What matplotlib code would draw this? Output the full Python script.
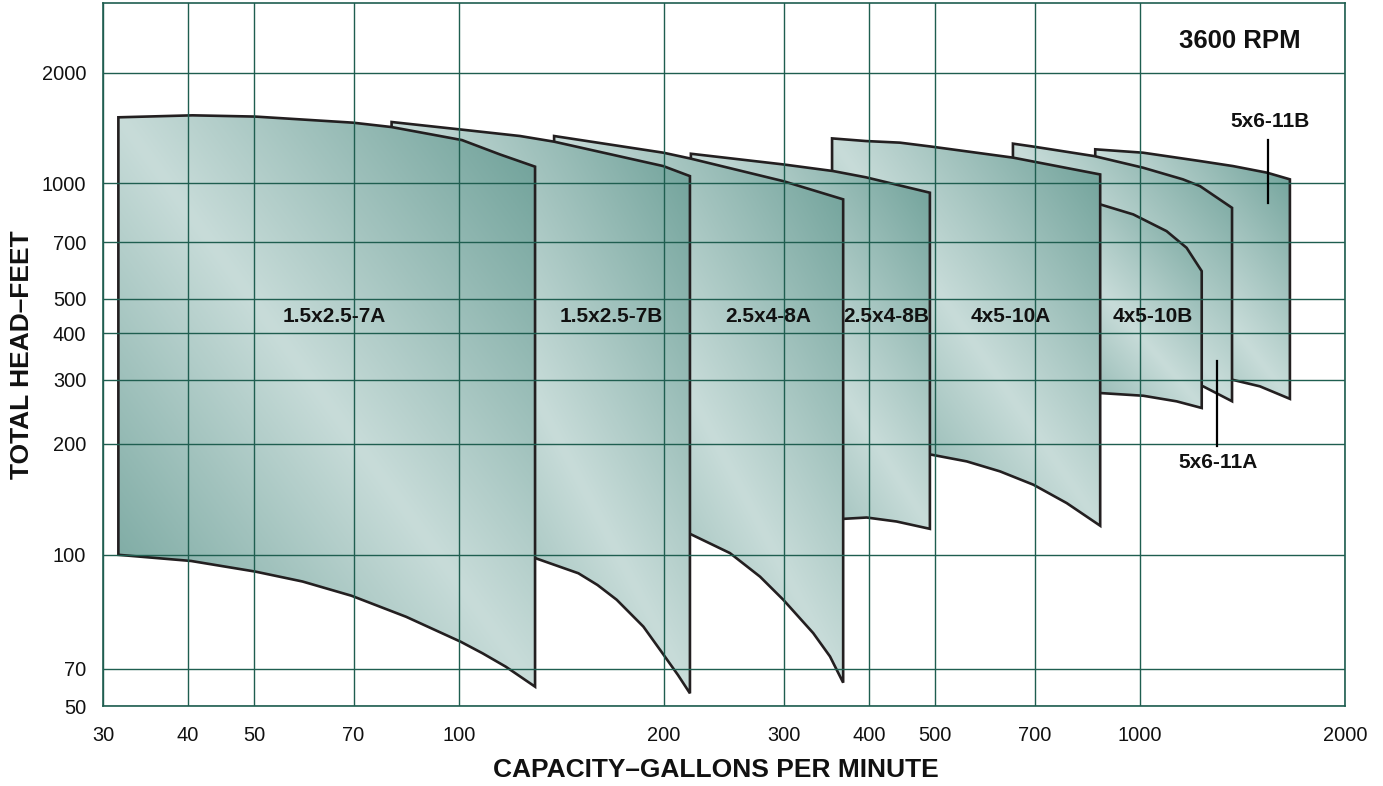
import numpy as np
import matplotlib
matplotlib.use("Agg")
import matplotlib.pyplot as plt
from matplotlib.patches import Polygon
from matplotlib.colors import LinearSegmentedColormap
from matplotlib.ticker import FixedLocator, FixedFormatter, NullLocator

plt.rcParams['font.family'] = ['Liberation Sans', 'DejaVu Sans']

# axis ticks as printed on the chart
x_ticks = [30, 40, 50, 70, 100, 200, 300, 400, 500, 700, 1000, 2000]
y_ticks = [50, 70, 100, 200, 300, 400, 500, 700, 1000, 2000]

# the printed head axis is not a clean log scale (bottom end is squeezed),
# so it is mapped piecewise through these reference heads
head_ref = [50, 70, 100, 200, 300, 400, 500, 700, 1000, 2000, 3100]
head_pos = [0, 37, 151, 262, 325.7, 372.3, 407, 463, 522.3, 632.3, 701.9]

pumps = ['1.5x2.5-7A', '1.5x2.5-7B', '2.5x4-8A', '2.5x4-8B',
         '4x5-10A', '4x5-10B', '5x6-11A', '5x6-11B']

# upper edge of each coverage area (gpm, ft)
top_q = [
    [31.6, 40.6, 50.2, 69.8, 79.6, 101, 114.8, 129.3],
    [79.6, 101, 122.9, 137.9, 199.5, 218.3],
    [137.9, 199.5, 218.3, 299, 366.5],
    [219, 299, 354, 396, 491.4],
    [353, 396, 444, 494.4, 650.7, 874],
    [650, 874, 977.5, 1094, 1170.6, 1232],
    [650.7, 698, 857, 1010, 1156, 1225, 1365],
    [859.5, 1010, 1225, 1370, 1536, 1660],
]
top_h = [
    [1513, 1532, 1520, 1463, 1423, 1311, 1198, 1109],
    [1469, 1400, 1345, 1298, 1113, 1045],
    [1345, 1211, 1168, 1013, 907],
    [1203, 1125, 1079, 1037, 944],
    [1325, 1303, 1290, 1258, 1174, 1056],
    [960, 880, 828.5, 749.3, 678, 589.4],
    [1282, 1258, 1185, 1102, 1024, 982, 862],
    [1237, 1211, 1149, 1113, 1068, 1024],
]
# lower edge of each coverage area (gpm, ft)
bot_q = [
    [31.6, 40.4, 50.2, 58.9, 69.5, 83.6, 100.6, 108.3, 117.1, 129.3],
    [79.6, 110, 129.3, 149.7, 159.7, 170.4, 186.5, 199.0, 209.6, 218.3],
    [137.9, 200, 218.3, 249.9, 276.7, 299.3, 331.2, 350.5, 366.5],
    [219, 368, 396.8, 439, 491.4],
    [353, 494.4, 556.6, 622.8, 697.6, 780.4, 874],
    [650, 874, 1011, 1131.9, 1232],
    [650.7, 1000, 1238, 1365],
    [859.5, 1200, 1370, 1500, 1660],
]
bot_h = [
    [100, 98.1, 94.9, 92.0, 88.0, 82.4, 76.2, 73.5, 70.5, 59.6],
    [108, 104, 99.0, 94.4, 91.0, 86.9, 79.9, 73.5, 66.3, 56.1],
    [125, 118, 114.0, 101.1, 93.4, 86.9, 78.3, 72.8, 61.8],
    [126, 125.2, 126.2, 123.1, 117.6],
    [190, 186.7, 179.1, 168.3, 154.8, 138.1, 119.9],
    [280, 276, 271.3, 261.8, 251],
    [300, 296, 288, 262],
    [310, 305, 300, 288, 266],
]

# where each area name is written
label_q = [65.5, 167.2, 284.7, 424.2, 646.3, 1045.5, 1302.7, 1553]
label_h = [445, 445, 445, 445, 445, 445, 178, 1472]
# leader lines for the two narrow areas
pointer_q = {6: 1296, 7: 1540}
pointer_h = {6: (338, 196.7), 7: (1311, 885)}


def head_fwd(h):
    h = np.clip(np.asarray(h, dtype=float), 1e-6, None)
    return np.interp(np.log10(h), np.log10(head_ref), head_pos)


def head_inv(p):
    p = np.asarray(p, dtype=float)
    return 10 ** np.interp(p, head_pos, np.log10(head_ref))


fig = plt.figure(figsize=(13.83, 7.86), dpi=100)
ax = fig.add_axes([103 / 1383, 80 / 786, 1242 / 1383, 702.7 / 786])
ax.set_xscale('log')
ax.set_yscale('function', functions=(head_fwd, head_inv))
ax.set_xlim(30, 2000)
ax.set_ylim(50, 3100)
ax.set_autoscale_on(False)

grid_col = '#1f5e50'
ax.xaxis.set_major_locator(FixedLocator(x_ticks))
ax.xaxis.set_major_formatter(FixedFormatter([str(t) for t in x_ticks]))
ax.xaxis.set_minor_locator(NullLocator())
ax.yaxis.set_major_locator(FixedLocator(y_ticks))
ax.yaxis.set_major_formatter(FixedFormatter([str(t) for t in y_ticks]))
ax.yaxis.set_minor_locator(NullLocator())
ax.tick_params(axis='both', length=0, labelsize=14.4, colors='#111111')
ax.tick_params(axis='x', pad=14.5)
ax.tick_params(axis='y', pad=12)
ax.grid(True, color=grid_col, linewidth=1.0)
ax.set_axisbelow(False)
for sp in ax.spines.values():
    sp.set_color(grid_col)
    sp.set_linewidth(1.2)

# diagonal shading: dark lower-left, light across the middle, dark upper-right
cmap = LinearSegmentedColormap.from_list('teal', ['#6c9f97', '#c8dcd9', '#6c9f97'])
n = 200
uu, vv = np.meshgrid(np.linspace(0, 1, n), np.linspace(0, 1, n))
grad = (uu + vv) / 2

to_axes = ax.transData + ax.transAxes.inverted()

# left-most area is drawn on top, each next one tucks in behind it
for i, name in enumerate(pumps):
    xs = list(top_q[i]) + list(bot_q[i])[::-1]
    ys = list(top_h[i]) + list(bot_h[i])[::-1]
    verts = np.column_stack([xs, ys])
    z = 2.2 - 0.2 * i
    poly = Polygon(verts, closed=True, facecolor='none', edgecolor='#231f20',
                   linewidth=1.9, joinstyle='miter', zorder=z + 0.05)
    ax.add_patch(poly)
    uv = to_axes.transform(verts)
    im = ax.imshow(grad, cmap=cmap, vmin=0, vmax=1, origin='lower',
                   extent=(uv[:, 0].min(), uv[:, 0].max(), uv[:, 1].min(), uv[:, 1].max()),
                   transform=ax.transAxes, aspect='auto', interpolation='bilinear', zorder=z)
    im.set_clip_path(poly)

    ax.text(label_q[i], label_h[i], name, ha='center', va='center',
            fontsize=15, fontweight='bold', color='#111111', zorder=5)
    if i in pointer_q:
        ax.plot([pointer_q[i], pointer_q[i]], list(pointer_h[i]), color='black',
                linewidth=1.6, zorder=5)

ax.text(1401.6, 2442, '3600 RPM', ha='center', va='center', fontsize=18.5,
        fontweight='bold', color='#111111', zorder=5)

fig.text(716 / 1383, 1 - 770 / 786, 'CAPACITY\u2013GALLONS PER MINUTE', ha='center', va='center',
         fontsize=19, fontweight='bold', color='#111111')
fig.text(22 / 1383, 1 - 355 / 786, 'TOTAL HEAD\u2013FEET', ha='center', va='center',
         rotation=90, fontsize=19, fontweight='bold', color='#111111')

fig.savefig('out.png', dpi=100)
